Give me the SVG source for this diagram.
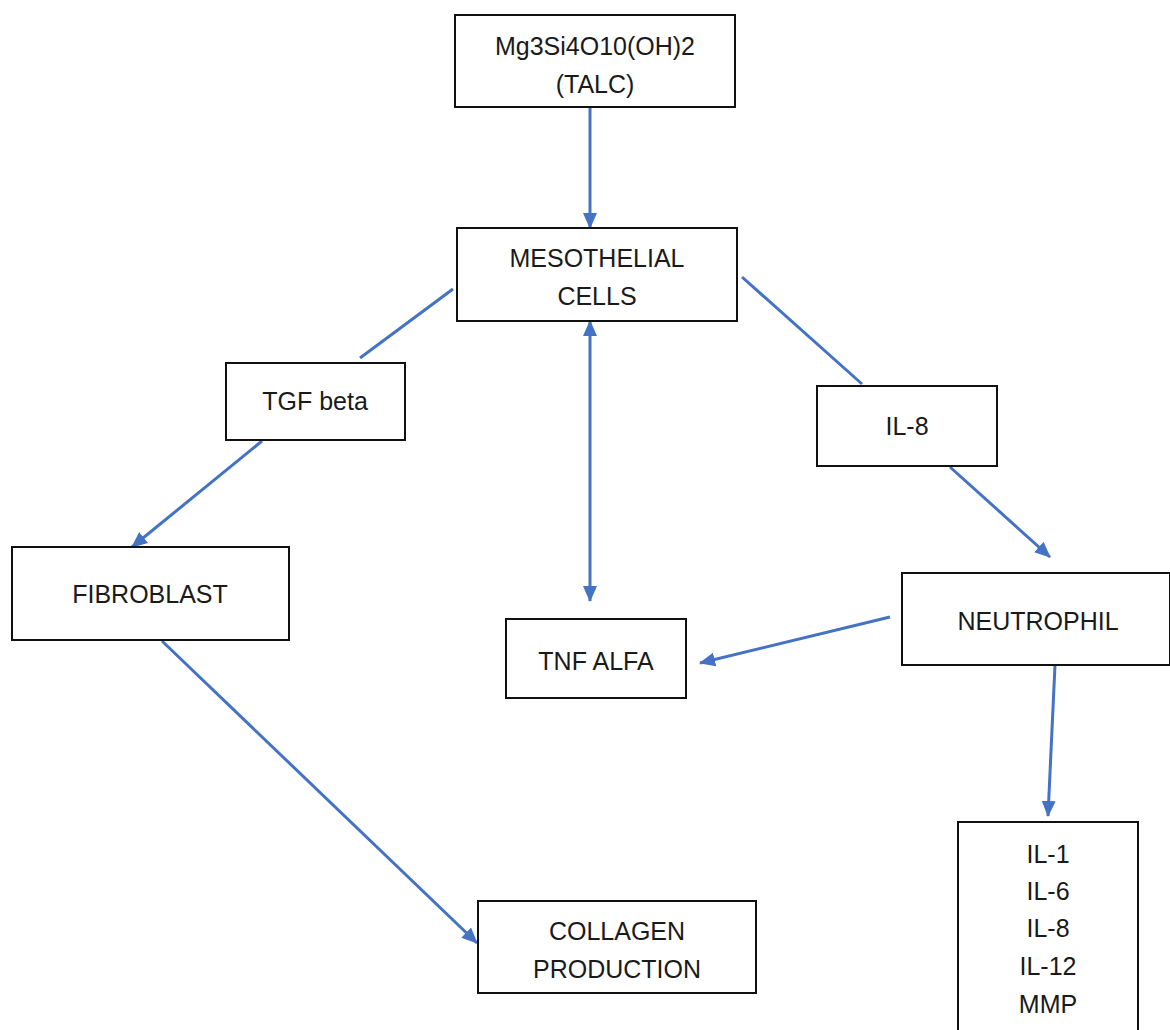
<svg xmlns="http://www.w3.org/2000/svg" width="1170" height="1030" viewBox="0 0 1170 1030">
<style>
.box{fill:#fff;stroke:#111;stroke-width:2}
.lbl{font-family:"Liberation Sans",Arial,sans-serif;font-size:25px;fill:#1a1a1a;text-anchor:middle}
.con{stroke:#4472C4;stroke-width:3;fill:none}
</style>
<defs>
<marker id="ah" markerUnits="userSpaceOnUse" markerWidth="16" markerHeight="16" viewBox="0 0 16 16" refX="15" refY="8" orient="auto-start-reverse">
<path d="M0,1 L16,8 L0,15 z" fill="#4472C4"/>
</marker>
</defs>
<rect width="1170" height="1030" fill="#fff"/>
<g id="connectors">
<line class="con" x1="590" y1="107" x2="590" y2="228" marker-end="url(#ah)"/>
<line class="con" x1="453" y1="289" x2="360" y2="358"/>
<line class="con" x1="742" y1="277" x2="862" y2="384"/>
<line class="con" x1="262" y1="441" x2="132" y2="547" marker-end="url(#ah)"/>
<line class="con" x1="590" y1="321" x2="590" y2="601" marker-start="url(#ah)" marker-end="url(#ah)"/>
<line class="con" x1="950" y1="467" x2="1050" y2="557" marker-end="url(#ah)"/>
<line class="con" x1="890" y1="617" x2="700" y2="663" marker-end="url(#ah)"/>
<line class="con" x1="1055" y1="665" x2="1048" y2="816" marker-end="url(#ah)"/>
<line class="con" x1="162" y1="641" x2="477" y2="943" marker-end="url(#ah)"/>
</g>
<g id="talc">
<rect class="box" x="455" y="15" width="280" height="92"/>
<text class="lbl" x="595" y="55">Mg3Si4O10(OH)2</text>
<text class="lbl" x="595" y="93">(TALC)</text>
</g>
<g id="mesothelial">
<rect class="box" x="457" y="228" width="280" height="93"/>
<text class="lbl" x="597" y="267">MESOTHELIAL</text>
<text class="lbl" x="597" y="305">CELLS</text>
</g>
<g id="tgf">
<rect class="box" x="226" y="363" width="179" height="77"/>
<text class="lbl" x="315" y="410">TGF beta</text>
</g>
<g id="il8">
<rect class="box" x="817" y="386" width="180" height="80"/>
<text class="lbl" x="907" y="435">IL-8</text>
</g>
<g id="fibroblast">
<rect class="box" x="12" y="547" width="277" height="93"/>
<text class="lbl" x="150" y="603">FIBROBLAST</text>
</g>
<g id="neutrophil">
<rect class="box" x="902" y="573" width="268" height="92"/>
<text class="lbl" x="1038" y="630">NEUTROPHIL</text>
</g>
<g id="tnf">
<rect class="box" x="506" y="619" width="180" height="79"/>
<text class="lbl" x="596" y="670">TNF ALFA</text>
</g>
<g id="collagen">
<rect class="box" x="478" y="901" width="278" height="92"/>
<text class="lbl" x="617" y="940">COLLAGEN</text>
<text class="lbl" x="617" y="978">PRODUCTION</text>
</g>
<g id="cytokines">
<rect class="box" x="958" y="822" width="180" height="220"/>
<text class="lbl" x="1048" y="863">IL-1</text>
<text class="lbl" x="1048" y="900">IL-6</text>
<text class="lbl" x="1048" y="937">IL-8</text>
<text class="lbl" x="1048" y="975">IL-12</text>
<text class="lbl" x="1048" y="1013">MMP</text>
</g>
</svg>
